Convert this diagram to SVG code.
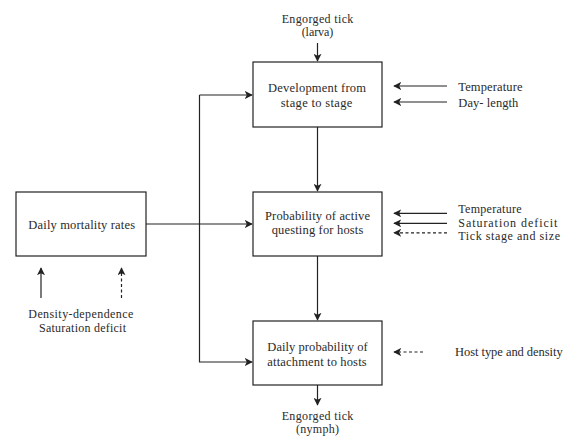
<svg xmlns="http://www.w3.org/2000/svg" width="570" height="438" viewBox="0 0 570 438">
  <defs>
    <marker id="arrow" viewBox="0 0 10 10" refX="9" refY="5" markerWidth="8" markerHeight="8" markerUnits="userSpaceOnUse" orient="auto">
      <path d="M0,0 L10,5 L0,10 L2.5,5 Z" fill="#222"/>
    </marker>
  </defs>
  <style>
    .box { fill: #fff; stroke: #222; stroke-width: 1.2; }
    .line { fill: none; stroke: #222; stroke-width: 1.2; }
    .dash { stroke-dasharray: 3 2.5; }
    text { font-size: 12px; fill: #2a2a2a; }
    .lg { font-size: 12.5px; }
    .c { text-anchor: middle; }
  </style>
  <rect width="570" height="438" fill="#fff"/>

  <g id="connectors">
    <!-- tick flow through the stages -->
    <path class="line" d="M317.5,43 V61" marker-end="url(#arrow)"/>
    <path class="line" d="M317.5,127 V191" marker-end="url(#arrow)"/>
    <path class="line" d="M317.5,256 V320" marker-end="url(#arrow)"/>
    <path class="line" d="M317.5,385 V405" marker-end="url(#arrow)"/>
    <!-- mortality feeds every stage -->
    <path class="line" d="M146,224 H252" marker-end="url(#arrow)"/>
    <path class="line" d="M199.5,95 V362 H252" marker-end="url(#arrow)"/>
    <path class="line" d="M199.5,95 H252" marker-end="url(#arrow)"/>
    <!-- environmental drivers -->
    <path class="line" d="M447,86 H394" marker-end="url(#arrow)"/>
    <path class="line" d="M447,102 H394" marker-end="url(#arrow)"/>
    <path class="line" d="M447,213.3 H394" marker-end="url(#arrow)"/>
    <path class="line" d="M447,223.3 H394" marker-end="url(#arrow)"/>
    <path class="line dash" d="M447,232.8 H394" marker-end="url(#arrow)"/>
    <path class="line dash" d="M423,352 H394" marker-end="url(#arrow)"/>
    <!-- mortality drivers -->
    <path class="line" d="M41,298 V268" marker-end="url(#arrow)"/>
    <path class="line dash" d="M121.5,298 V268" marker-end="url(#arrow)"/>
  </g>

  <g font-family="'Liberation Serif', Tinos, 'Times New Roman', 'DejaVu Serif', serif" lengthAdjust="spacing">
    <g id="development">
      <rect class="box" x="253" y="62" width="129" height="65"/>
      <text class="c lg" x="317" y="92" textLength="98">Development from</text>
      <text class="c lg" x="316.5" y="106.5" textLength="71.7">stage to stage</text>
    </g>

    <g id="questing">
      <rect class="box" x="253" y="192" width="129" height="64"/>
      <text class="c lg" x="317.5" y="219.5" textLength="105">Probability of active</text>
      <text class="c lg" x="317.5" y="233.5" textLength="91.7">questing for hosts</text>
    </g>

    <g id="attachment">
      <rect class="box" x="253" y="321" width="129" height="64"/>
      <text class="c lg" x="317.5" y="350.5" textLength="100.3">Daily probability of</text>
      <text class="c lg" x="317" y="365.5" textLength="99.3">attachment to hosts</text>
    </g>

    <g id="mortality">
      <rect class="box" x="16" y="192" width="130" height="64"/>
      <text class="c lg" x="81.7" y="228.5" textLength="106.7">Daily mortality rates</text>
    </g>

    <g id="larva">
      <text class="c" x="317.5" y="23" textLength="71.7">Engorged tick</text>
      <text class="c" x="317.5" y="36" textLength="31.7">(larva)</text>
    </g>

    <g id="nymph">
      <text class="c" x="317.5" y="419.5" textLength="71.7">Engorged tick</text>
      <text class="c" x="317.5" y="432.5" textLength="43">(nymph)</text>
    </g>

    <g id="development-drivers">
      <text class="lg" x="458.3" y="90.5" textLength="64.3">Temperature</text>
      <text class="lg" x="458.3" y="106.5" textLength="60">Day- length</text>
    </g>

    <g id="questing-drivers">
      <text x="458.3" y="213.3" textLength="63.3">Temperature</text>
      <text x="458.3" y="226.7" textLength="99">Saturation deficit</text>
      <text x="458.3" y="240" textLength="101.7">Tick stage and size</text>
    </g>

    <g id="host-driver">
      <text class="lg" x="455" y="355.5" textLength="107.7">Host type and density</text>
    </g>

    <g id="mortality-drivers">
      <text class="c" x="80.8" y="318.3" textLength="105">Density-dependence</text>
      <text class="c" x="82.5" y="331.7" textLength="87">Saturation deficit</text>
    </g>
  </g>
</svg>
